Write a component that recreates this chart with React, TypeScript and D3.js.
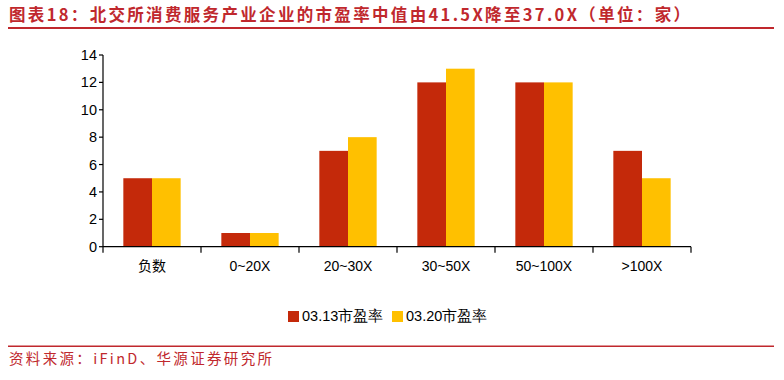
import React from "react";
import * as d3 from "d3";

const categories = ["负数", "0~20X", "20~30X", "30~50X", "50~100X", ">100X"];
const seriesNames = ["03.13市盈率", "03.20市盈率"];
const series313 = [5, 1, 7, 12, 12, 7];
const series320 = [5, 1, 8, 13, 12, 5];
const yTicks = [0, 2, 4, 6, 8, 10, 12, 14];
const colors = ["#C4290A", "#FFC000"];
const title = "图表18：北交所消费服务产业企业的市盈率中值由41.5X降至37.0X（单位：家）";
const source = "资料来源：iFinD、华源证券研究所";

export default function App() {
  const W = 784, H = 380;
  const left = 103, right = 691, top = 55, bottom = 246.7;
  const x = d3.scaleBand<string>().domain(categories).range([left, right]).paddingInner(0).paddingOuter(0);
  const y = d3.scaleLinear().domain([0, 14]).range([bottom, top]);
  const groupW = x.bandwidth() * 0.585;
  const x1 = d3.scaleBand<number>().domain([0, 1]).range([0, groupW]).padding(0);
  const data = [series313, series320];
  const font = "'Liberation Sans', Arial, sans-serif";
  const cjk = "'Noto Sans CJK SC', 'Noto Sans', sans-serif";
  const red = "#C0282D";

  return (
    <svg width={W} height={H} style={{ position: "absolute", left: 0, top: 0, background: "#fff" }}>
      <rect x={0} y={0} width={W} height={H} fill="#fff" />
      <text x={9} y={21} fontFamily={cjk} fontSize={16.5} fontWeight={700} fill={red} textLength={681} lengthAdjust="spacing">{title}</text>
      <rect x={8} y={27} width={766} height={2} fill={red} />

      {/* bars */}
      {categories.map((c, i) => (
        <g key={c} transform={`translate(${(x(c) as number) + (x.bandwidth() - groupW) / 2},0)`}>
          {data.map((s, j) => (
            <rect key={j} x={x1(j)} y={y(s[i])} width={x1.bandwidth()} height={bottom - y(s[i])} fill={colors[j]} />
          ))}
        </g>
      ))}

      {/* y axis */}
      <line x1={left} x2={left} y1={top} y2={bottom} stroke="#000" strokeWidth={1.2} />
      {yTicks.map((t) => (
        <g key={t}>
          <line x1={left - 4} x2={left} y1={y(t)} y2={y(t)} stroke="#000" strokeWidth={1.2} />
          <text x={left - 6} y={y(t)} dy="0.35em" textAnchor="end" fontFamily={font} fontSize={14.5} fill="#000">{t}</text>
        </g>
      ))}

      {/* x axis */}
      <line x1={left} x2={right} y1={bottom} y2={bottom} stroke="#000" strokeWidth={1.2} />
      {[...categories.map((c) => x(c) as number), right].map((p, i) => (
        <line key={i} x1={p} x2={p} y1={bottom} y2={bottom + 6} stroke="#000" strokeWidth={1.2} />
      ))}
      {categories.map((c) => (
        <text key={c} x={(x(c) as number) + x.bandwidth() / 2} y={271} textAnchor="middle" fontFamily={c === "负数" ? cjk : font} fontSize={14} fill="#000">{c}</text>
      ))}

      {/* legend */}
      {seriesNames.map((n, j) => {
        const lx = j === 0 ? 288 : 392;
        return (
          <g key={n}>
            <rect x={lx} y={311} width={11} height={11} fill={colors[j]} />
            <text x={lx + 14} y={321} fontFamily={font} fontSize={14.5} fill="#000">{n}</text>
          </g>
        );
      })}

      <rect x={8} y={345.5} width={766} height={1.5} fill={red} />
      <text x={9} y={364} fontFamily={cjk} fontSize={14.5} fill={red} textLength={263} lengthAdjust="spacing">{source}</text>
    </svg>
  );
}
